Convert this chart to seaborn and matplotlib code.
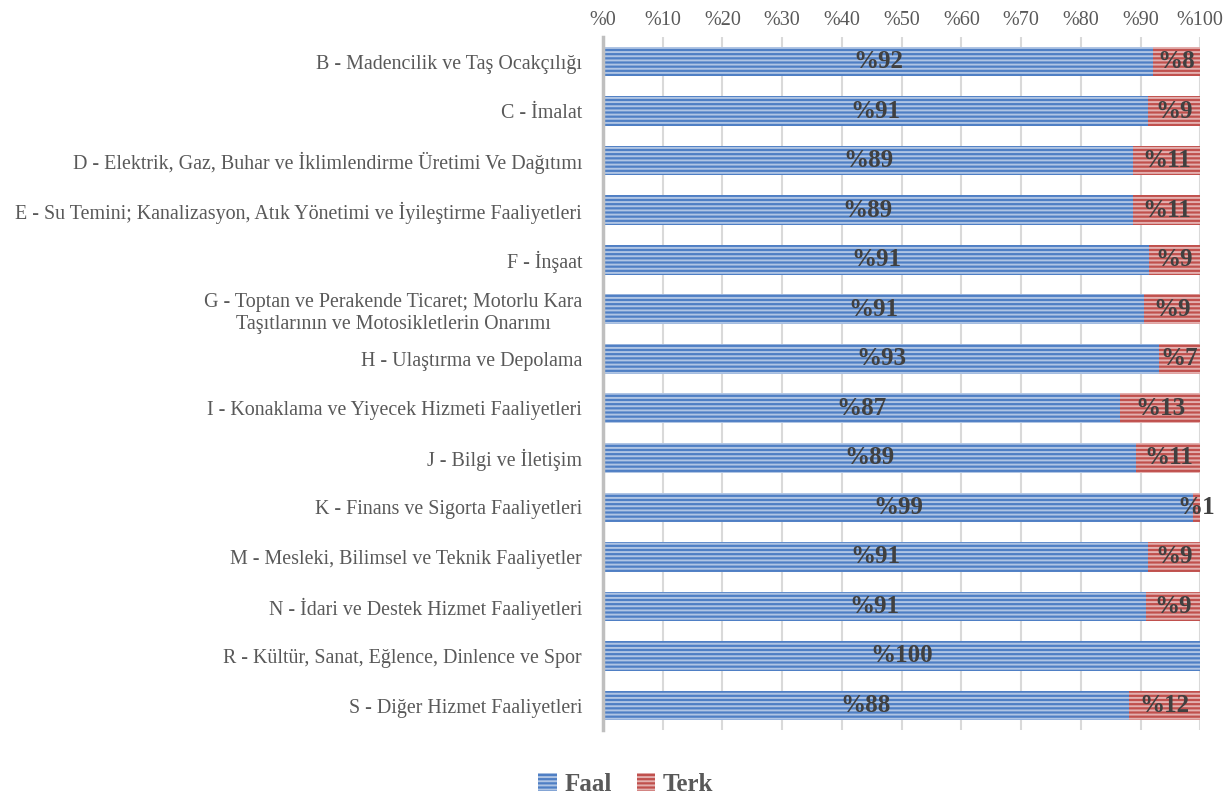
import matplotlib
matplotlib.use("Agg")
import pandas as pd
import seaborn as sns
import matplotlib.pyplot as plt
from matplotlib.patches import Patch
from matplotlib.colors import to_rgb

sectors = [
    "B - Madencilik ve Taş Ocakçılığı",
    "C - İmalat",
    "D - Elektrik, Gaz, Buhar ve İklimlendirme Üretimi Ve Dağıtımı",
    "E - Su Temini; Kanalizasyon, Atık Yönetimi ve İyileştirme Faaliyetleri",
    "F - İnşaat",
    "G - Toptan ve Perakende Ticaret; Motorlu Kara\nTaşıtlarının ve Motosikletlerin Onarımı",
    "H - Ulaştırma ve Depolama",
    "I - Konaklama ve Yiyecek Hizmeti Faaliyetleri",
    "J - Bilgi ve İletişim",
    "K - Finans ve Sigorta Faaliyetleri",
    "M - Mesleki, Bilimsel ve Teknik Faaliyetler",
    "N - İdari ve Destek Hizmet Faaliyetleri",
    "R - Kültür, Sanat, Eğlence, Dinlence ve Spor",
    "S - Diğer Hizmet Faaliyetleri",
]
faal = [92.1, 91.3, 88.8, 88.7, 91.4, 90.6, 93.1, 86.6, 89.3, 98.8, 91.2, 91.0, 100.0, 88.1]
terk = [7.9, 8.7, 11.2, 11.3, 8.6, 9.4, 6.9, 13.4, 10.7, 1.2, 8.8, 9.0, 0.0, 11.9]
ticks = [0, 10, 20, 30, 40, 50, 60, 70, 80, 90, 100]

blue = "#4f7fc4"
red = "#c0504d"
grey = "#595959"


def light(c, k=0.55):
    r, g, b = to_rgb(c)
    return (r + (1 - r) * k, g + (1 - g) * k, b + (1 - b) * k)


sns.set_style("white")
plt.rcParams["font.family"] = ["Liberation Serif", "DejaVu Serif"]
plt.rcParams["hatch.linewidth"] = 1.4

df = pd.DataFrame({"sector": sectors, "faal": faal, "terk": terk})
df["total"] = df["faal"] + df["terk"]

fig = plt.figure(figsize=(12.29, 7.99), dpi=100)
ax = fig.add_axes([0.4906, 0.086, 0.4860, 0.868])

# stacked: red full bar under, blue part on top
sns.barplot(data=df, x="total", y="sector", color=red, saturation=1, width=0.6, ax=ax)
sns.barplot(data=df, x="faal", y="sector", color=blue, saturation=1, width=0.6, ax=ax)

# striped fill like the original
for p in ax.patches:
    p.set_hatch("----")
    p.set_edgecolor(light(p.get_facecolor()))
    p.set_linewidth(0)
    p.set_zorder(2)

for i in range(len(sectors)):
    if faal[i] > 0:
        ax.text(faal[i] / 2, i, "%" + str(round(faal[i])), ha="center", va="center",
                fontsize=18, fontweight="bold", color="#404040", zorder=3)
    if terk[i] > 0:
        ax.text(faal[i] + terk[i] / 2, i, "%" + str(round(terk[i])), ha="center", va="center",
                fontsize=18, fontweight="bold", color="#404040", zorder=3)

ax.set_xlim(0, 100)
ax.set_xticks(ticks)
ax.set_xticklabels(["%" + str(t) for t in ticks], fontsize=14.5, color=grey)
ax.xaxis.tick_top()
ax.tick_params(axis="x", length=0, pad=5)
ax.tick_params(axis="y", length=0, labelsize=14.4, labelcolor=grey, pad=15)
for lab in ax.get_yticklabels():
    lab.set_multialignment("center")
ax.set_xlabel("")
ax.set_ylabel("")
ax.xaxis.grid(True, color="#d9d9d9", linewidth=1.5)
ax.yaxis.grid(False)
for s in ["top", "right", "bottom"]:
    ax.spines[s].set_visible(False)
ax.spines["left"].set_color("#bfbfbf")
ax.spines["left"].set_linewidth(2.5)
ax.spines["left"].set_zorder(4)

handles = [Patch(facecolor=blue, hatch="----", edgecolor=light(blue), linewidth=0, label="Faal"),
           Patch(facecolor=red, hatch="----", edgecolor=light(red), linewidth=0, label="Terk")]
leg = fig.legend(handles=handles, loc="lower center", bbox_to_anchor=(0.509, -0.024), ncol=2,
                 frameon=False, handlelength=0.75, handleheight=0.75, handletextpad=0.3,
                 columnspacing=1.0, prop={"size": 18, "weight": "bold"})
for t in leg.get_texts():
    t.set_color(grey)

plt.savefig("out.png", dpi=100)
